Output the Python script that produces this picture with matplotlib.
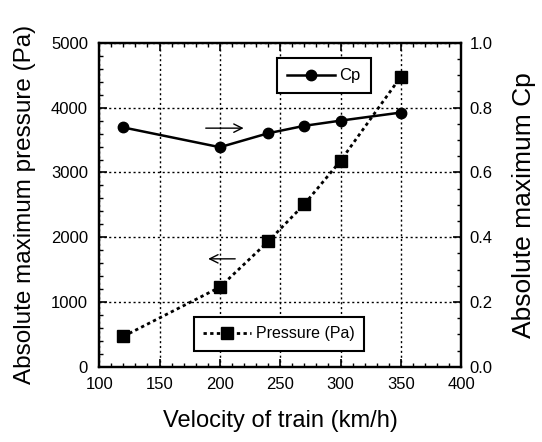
import numpy as np
import matplotlib.pyplot as plt
from matplotlib.ticker import MultipleLocator

plt.rcParams['font.family'] = ['Liberation Sans', 'DejaVu Sans']

velocity = [120, 200, 240, 270, 300, 350]
pressure = [470, 1230, 1935, 2510, 3180, 4480]
cp = [0.739, 0.678, 0.721, 0.744, 0.760, 0.785]

fig = plt.figure(figsize=(5.42, 4.42), dpi=100)
ax = fig.add_axes([0.183, 0.170, 0.668, 0.733])
ax2 = ax.twinx()

ax.plot(velocity, pressure, color='black', linestyle=(0, (1.2, 1.2)), linewidth=2,
        marker='s', markersize=8, label='Pressure (Pa)')
ax2.plot(velocity, cp, color='black', linestyle='-', linewidth=1.8,
         marker='o', markersize=7.5, label='Cp')

ax.set_xlim(100, 400)
ax.set_ylim(0, 5000)
ax2.set_ylim(0, 1.0)

ax.xaxis.set_major_locator(MultipleLocator(50))
ax.xaxis.set_minor_locator(MultipleLocator(10))
ax.yaxis.set_major_locator(MultipleLocator(1000))
ax.yaxis.set_minor_locator(MultipleLocator(200))
ax2.yaxis.set_major_locator(MultipleLocator(0.2))
ax2.yaxis.set_minor_locator(MultipleLocator(0.05))
ax2.yaxis.set_major_formatter(plt.FormatStrFormatter('%.1f'))

ax.grid(True, which='major', color='black', linestyle=(0, (1.5, 2)), linewidth=1)

ax.tick_params(which='both', direction='in', top=True, labelsize=12)
ax.tick_params(axis='x', which='both', pad=7)
ax.tick_params(axis='y', which='both', pad=8)
ax.tick_params(which='major', length=6, width=1.2)
ax.tick_params(which='minor', length=3, width=1)
ax2.tick_params(which='both', direction='in', labelsize=12, pad=6)
ax2.tick_params(which='major', length=6, width=1.2)
ax2.tick_params(which='minor', length=3, width=1)

for a in (ax, ax2):
    for s in a.spines.values():
        s.set_linewidth(1.6)

ax.set_xlabel('Velocity of train (km/h)', fontsize=17, labelpad=13)
ax.set_ylabel('Absolute maximum pressure (Pa)', fontsize=17.5, labelpad=11)
ax2.set_ylabel('Absolute maximum Cp', fontsize=19, labelpad=14)

ax.annotate('', xy=(222, 3684), xytext=(186, 3684),
            arrowprops=dict(arrowstyle='->', color='black', lw=1, mutation_scale=15))
ax.annotate('', xy=(188, 1667), xytext=(215, 1667),
            arrowprops=dict(arrowstyle='->', color='black', lw=1, mutation_scale=15))

leg1 = ax2.legend(loc='center', bbox_to_anchor=(0.62, 0.898), fontsize=12,
                  frameon=True, fancybox=False, handlelength=2.9,
                  borderpad=0.6, handletextpad=0.25)
leg1.get_frame().set_edgecolor('black')
leg1.get_frame().set_linewidth(1.5)
leg1.get_frame().set_alpha(1)

leg2 = ax.legend(loc='center', bbox_to_anchor=(0.497, 0.102), fontsize=11.5,
                 frameon=True, fancybox=False, handlelength=3.0,
                 borderpad=0.6, handletextpad=0.3)
leg2.get_frame().set_edgecolor('black')
leg2.get_frame().set_linewidth(1.5)
leg2.get_frame().set_alpha(1)

fig.savefig('out.png', dpi=100)
